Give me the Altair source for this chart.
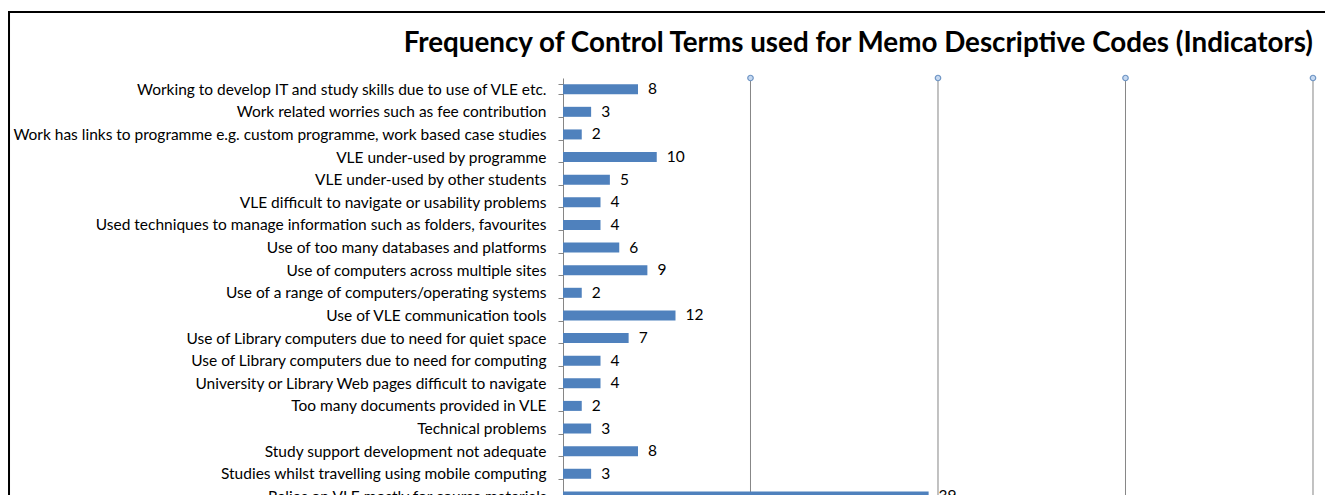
import altair as alt
import pandas as pd

categories = [
    "Working to develop IT and study skills due to use of VLE etc.",
    "Work related worries such as fee contribution",
    "Work has links to programme e.g. custom programme, work based case studies",
    "VLE under-used by programme",
    "VLE under-used by other students",
    "VLE difficult to navigate or usability problems",
    "Used techniques to manage information such as folders, favourites",
    "Use of too many databases and platforms",
    "Use of computers across multiple sites",
    "Use of a range of computers/operating systems",
    "Use of VLE communication tools",
    "Use of Library computers due to need for quiet space",
    "Use of Library computers due to need for computing",
    "University or Library Web pages difficult to navigate",
    "Too many documents provided in VLE",
    "Technical problems",
    "Study support development not adequate",
    "Studies whilst travelling using mobile computing",
    "Relies on VLE mostly for course materials",
]
values = [8, 3, 2, 10, 5, 4, 4, 6, 9, 2, 12, 7, 4, 4, 2, 3, 8, 3, 39]
grid_values = [20, 40, 60, 80]
title_text = "Frequency of Control Terms used for Memo Descriptive Codes (Indicators)"

W = 750
BAND = 22.61
FULL_H = BAND * len(categories)
TOP = 70

df = pd.DataFrame({"term": categories, "count": values})
gdf = pd.DataFrame({"g": grid_values})

FONT = "Lato"
FS = 15.5

xscale = alt.Scale(domain=[0, 80], nice=False)
yenc = alt.Y("term:N", sort=categories,
             scale=alt.Scale(paddingInner=0.55, paddingOuter=0.27),
             axis=alt.Axis(title=None, labelFont=FONT, labelFontSize=FS, labelColor="#000000",
                           domainColor="#868686", tickColor="#868686", tickSize=5,
                           labelPadding=12, labelLimit=700, grid=False, tickBand="extent"))

grid = alt.Chart(gdf).mark_rule(color="#868686", strokeWidth=1).encode(
    x=alt.X("g:Q", scale=xscale, axis=None), y=alt.value(2), y2=alt.value(FULL_H))
dots = alt.Chart(gdf).mark_point(shape="circle", size=30, filled=True, fill="#C6D9F1",
                                  stroke="#6F95C4", strokeWidth=1.2, opacity=1).encode(
    x=alt.X("g:Q", scale=xscale, axis=None), y=alt.value(0))

bars = alt.Chart(df).mark_bar(color="#4F81BD", size=10).encode(
    x=alt.X("count:Q", scale=xscale, axis=None), y=yenc)
labels = alt.Chart(df).mark_text(align="left", dx=10, font=FONT, fontSize=FS, color="#000000").encode(
    x=alt.X("count:Q", scale=xscale, axis=None), y=yenc, text="count:Q")

title = alt.Chart(pd.DataFrame({"t": [title_text]})).mark_text(
    align="right", baseline="middle", font=FONT, fontSize=27.8, fontWeight="bold", color="#000000"
).encode(x=alt.value(W), y=alt.value(-34), text="t:N")

border_top = alt.Chart(pd.DataFrame({"a": [0]})).mark_rule(color="#000000", strokeWidth=2).encode(
    x=alt.value(-555), x2=alt.value(W + 40), y=alt.value(-66))
border_left = alt.Chart(pd.DataFrame({"a": [0]})).mark_rule(color="#000000", strokeWidth=2).encode(
    x=alt.value(-554), y=alt.value(-67), y2=alt.value(FULL_H + 20))

chart = alt.layer(grid, bars, labels, dots, title, border_top, border_left).properties(
    width=W, height=FULL_H,
    autosize=alt.AutoSizeParams(type="none"),
    padding={"left": 555, "top": TOP, "right": 12, "bottom": 10},
).configure_view(stroke=None)

chart.save("out.html", embed_options={"renderer": "svg", "actions": False})
